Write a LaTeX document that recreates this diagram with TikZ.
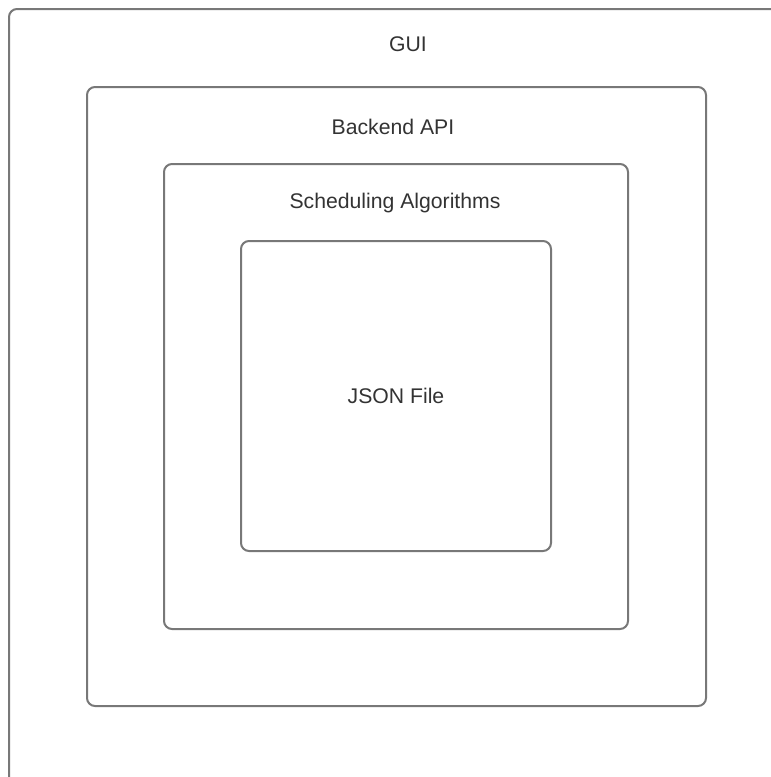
\documentclass[tikz,border=0pt]{standalone}
\usepackage{fontspec}
\setmainfont{Liberation Sans}
\usepackage{xcolor}
\usepackage{tikz}
\usetikzlibrary{positioning}
\definecolor{framegray}{RGB}{120,120,120}
\definecolor{textgray}{RGB}{51,51,51}

\begin{document}
\begin{tikzpicture}[
          x=0.5pt, y=-0.5pt,
          layer/.style={
            rectangle, rounded corners=4pt,
            draw=framegray, line width=1pt,
            anchor=north west, inner sep=0pt
          },
          title/.style={
            font=\fontsize{10.6}{13}\selectfont, text=textgray,
            inner sep=0pt
          }
        ]
          \clip (0,0) rectangle (771,777);
          \fill[white] (0,0) rectangle (771,777);

          % nested layers
          \node[layer, minimum width=420pt, minimum height=420pt] (gui)  at (8,8)     {};
          \node[layer, minimum width=309.5pt, minimum height=309.5pt] (api) at (86,86) {};
          \node[layer, minimum width=232pt, minimum height=232.5pt] (sched) at (163,163) {};
          \node[layer, minimum width=155pt, minimum height=155pt] (json) at (240,240) {};

          % layer names
          \node[title] (guilabel)   at (408,44)  {GUI};
          \node[title] (apilabel)   at (393,127) {Backend API};
          \node[title] (schedlabel) at (395,203) {Scheduling Algorithms};
          \node[title] (jsonlabel)  at (json.center) {JSON File};
        \end{tikzpicture}
\end{document}
